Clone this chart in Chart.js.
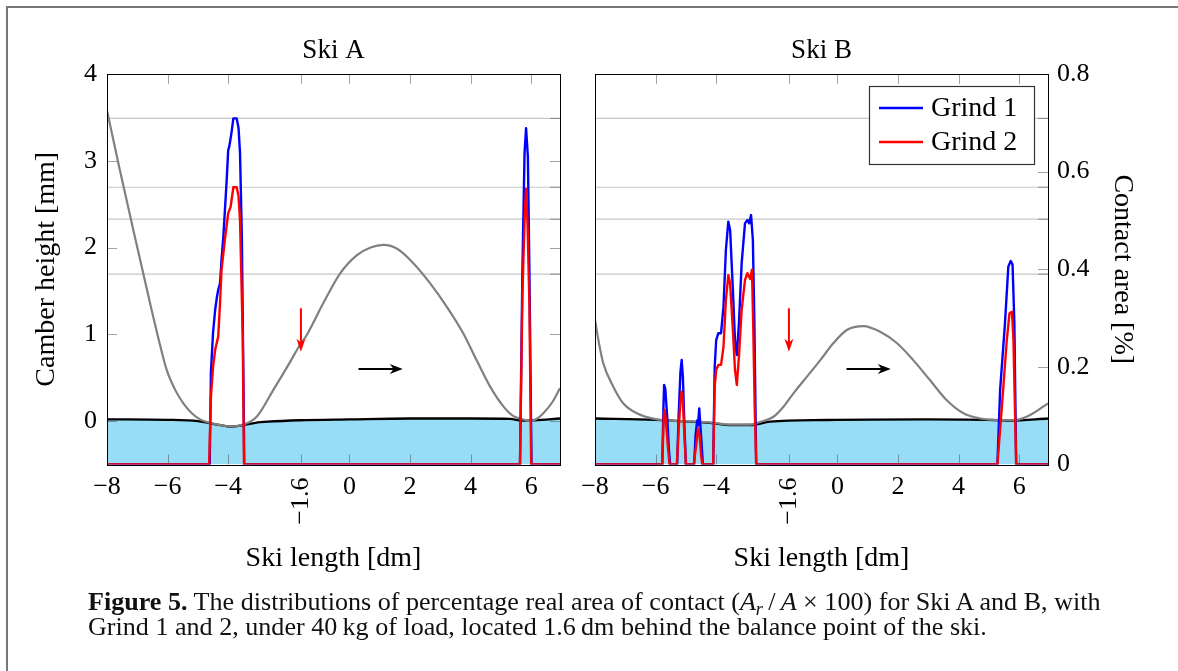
<!DOCTYPE html>
<html>
<head>
<meta charset="utf-8">
<script src="https://cdn.jsdelivr.net/npm/chart.js@4.4.1/dist/chart.umd.min.js"></script>
<style>
html,body{margin:0;padding:0;background:#fff;}
body{width:1178px;height:671px;position:relative;overflow:hidden;font-family:'Liberation Serif','Times New Roman',serif;}
#frame{position:absolute;left:6px;top:6px;width:1300px;height:800px;border-left:2px solid #777;border-top:2px solid #777;}
#ca{position:absolute;left:0;top:0;}
#cb{position:absolute;left:570px;top:0;}
#cap{position:absolute;left:88px;top:589px;font-size:23px;line-height:25px;color:#111;white-space:nowrap;}
#cap sub{font-size:70%;vertical-align:-0.25em;line-height:0;}
</style>
</head>
<body>
<div id="frame"></div>
<canvas id="ca" width="570" height="590"></canvas>
<canvas id="cb" width="608" height="590"></canvas>
<div id="cap"><span id="l1"><b>Figure 5.</b> The distributions of percentage real area of contact (<i>A<sub>r</sub></i>&#8201;/&#8201;<i>A</i> × 100) for Ski A and B, with</span><br><span id="l2">Grind 1 and 2, under 40&#8201;kg of load, located 1.6&#8201;dm behind the balance point of the ski.</span></div>
<script>
// ---------- data ----------
const xTicks = [-8, -6, -4, -1.6, 0, 2, 4, 6];
const camberTicks = [0, 1, 2, 3, 4];
const contactTicks = [0, 0.2, 0.4, 0.6, 0.8];
const gridLevels = [0.709, 0.568, 0.5025, 0.39];
const panelTitles = ['Ski A', 'Ski B'];
const seriesNames = ['Grind 1', 'Grind 2'];

// annotation arrows (x in dm, y in camber mm)
const loadArrowX = -1.6, loadArrowY = [1.30, 0.80];
const dirArrowX = [0.30, 1.76], dirArrowY = 0.60;

// Ski A
const skiA_camberX = [-8, -7.6, -7.13, -6.58, -6.3, -6.03, -5.75, -5.48, -5.2, -4.93, -4.6, -4.2, -3.88, -3.5, -3.06, -2.51, -1.96, -1.63, -1.41, -0.86, -0.31, 0.24, 0.7, 1.12, 1.6, 2.11, 2.66, 3.21, 3.76, 4.2, 4.64, 5.08, 5.4, 5.63, 5.96, 6.2, 6.4, 6.7, 6.95];
const skiA_camberY = [3.58, 2.93, 2.20, 1.36, 0.95, 0.59, 0.36, 0.205, 0.09, 0.02, -0.02, -0.05, -0.065, -0.04, 0.05, 0.36, 0.68, 0.88, 0.99, 1.36, 1.70, 1.91, 2.0, 2.03, 1.98, 1.82, 1.59, 1.32, 1.01, 0.70, 0.40, 0.17, 0.06, 0.03, 0.00, 0.03, 0.09, 0.22, 0.38];
const skiA_loadedX = [-8, -6, -5, -4.6, -4.2, -3.88, -3.5, -3.1, -2.69, -1.63, 0, 2, 4, 5.3, 5.73, 6.1, 6.95];
const skiA_loadedY = [0.02, 0.015, 0.0, -0.025, -0.05, -0.065, -0.045, -0.02, -0.007, 0.01, 0.02, 0.03, 0.03, 0.025, 0.005, 0.01, 0.03];
const skiA_grind1X = [-8, -4.61, -4.57, -4.50, -4.43, -4.38, -4.33, -4.27, -4.22, -4.16, -4.10, -4.05, -4.00, -3.97, -3.94, -3.88, -3.83, -3.76, -3.72, -3.66, -3.61, -3.55, -3.50, -3.47, 5.63, 5.71, 5.78, 5.83, 5.89, 5.94, 6.01, 6.95];
const skiA_grind1Y = [0, 0, 0.19, 0.27, 0.317, 0.34, 0.358, 0.371, 0.42, 0.467, 0.53, 0.583, 0.644, 0.65, 0.66, 0.685, 0.709, 0.709, 0.709, 0.69, 0.638, 0.467, 0.19, 0, 0, 0.40, 0.638, 0.689, 0.63, 0.40, 0, 0];
const skiA_grind2X = [-8, -4.63, -4.57, -4.50, -4.43, -4.33, -4.27, -4.22, -4.11, -4.00, -3.92, -3.83, -3.72, -3.66, -3.61, -3.52, -3.48, 5.63, 5.71, 5.78, 5.83, 5.88, 5.94, 6.00, 6.95];
const skiA_grind2Y = [0, 0, 0.139, 0.20, 0.235, 0.262, 0.33, 0.399, 0.46, 0.515, 0.528, 0.568, 0.568, 0.55, 0.50, 0.262, 0, 0, 0.35, 0.50, 0.565, 0.49, 0.33, 0, 0];

// Ski B
const skiB_camberX = [-8, -7.87, -7.73, -7.4, -7.07, -6.62, -5.96, -5.0, -4.09, -3.54, -2.88, -2.55, -2.11, -1.78, -1.45, -1.01, -0.57, -0.13, 0.31, 0.86, 1.41, 1.96, 2.51, 3.06, 3.61, 4.16, 4.71, 5.37, 5.92, 6.36, 6.95];
const skiB_camberY = [1.17, 0.90, 0.67, 0.40, 0.205, 0.09, 0.02, 0.0, -0.02, -0.04, -0.04, -0.01, 0.05, 0.166, 0.32, 0.51, 0.70, 0.90, 1.05, 1.095, 1.03, 0.90, 0.70, 0.47, 0.24, 0.09, 0.03, 0.01, 0.015, 0.07, 0.205];
const skiB_loadedX = [-8, -6, -4.86, -4.09, -3.54, -2.88, -2.22, -0.35, 2.95, 5.15, 5.70, 6.95];
const skiB_loadedY = [0.03, 0.015, -0.007, -0.025, -0.045, -0.045, -0.007, 0.013, 0.02, 0.013, 0.005, 0.03];
const skiB_grind1X = [-8, -5.78, -5.74, -5.72, -5.68, -5.62, -5.56, -5.52, -5.29, -5.24, -5.18, -5.14, -5.10, -5.05, -5.00, -4.73, -4.68, -4.63, -4.60, -4.56, -4.50, -4.44, -4.10, -4.05, -4.00, -3.93, -3.84, -3.76, -3.68, -3.60, -3.54, -3.45, -3.38, -3.32, -3.25, -3.16, -3.05, -2.97, -2.91, -2.85, -2.79, -2.74, -2.68, 5.28, 5.37, 5.53, 5.64, 5.72, 5.78, 5.84, 5.90, 6.95];
const skiB_grind1Y = [0, 0, 0.12, 0.163, 0.155, 0.10, 0.03, 0, 0, 0.10, 0.19, 0.214, 0.18, 0.08, 0, 0, 0.06, 0.09, 0.08, 0.115, 0.06, 0, 0, 0.2, 0.255, 0.269, 0.269, 0.323, 0.44, 0.4975, 0.48, 0.358, 0.255, 0.224, 0.289, 0.412, 0.494, 0.501, 0.494, 0.511, 0.46, 0.289, 0, 0, 0.153, 0.289, 0.405, 0.417, 0.41, 0.289, 0, 0];
const skiB_grind2X = [-8, -5.78, -5.73, -5.70, -5.66, -5.60, -5.54, -5.30, -5.24, -5.18, -5.14, -5.10, -5.05, -5.00, -4.74, -4.66, -4.60, -4.55, -4.50, -4.46, -4.10, -4.05, -4.00, -3.93, -3.84, -3.76, -3.68, -3.60, -3.54, -3.45, -3.38, -3.32, -3.25, -3.16, -3.05, -2.97, -2.88, -2.82, -2.78, -2.73, -2.68, 5.28, 5.42, 5.59, 5.68, 5.76, 5.81, 5.87, 5.90, 6.95];
const skiB_grind2Y = [0, 0, 0.10, 0.112, 0.09, 0.04, 0, 0, 0.07, 0.13, 0.149, 0.13, 0.06, 0, 0, 0.04, 0.074, 0.06, 0.02, 0, 0, 0.16, 0.194, 0.204, 0.204, 0.241, 0.337, 0.388, 0.37, 0.276, 0.194, 0.163, 0.221, 0.317, 0.378, 0.392, 0.38, 0.399, 0.29, 0.12, 0, 0, 0.112, 0.255, 0.31, 0.313, 0.255, 0.085, 0, 0];

// ---------- rendering ----------
const FONT = "'Liberation Serif', 'Times New Roman', serif";
Chart.defaults.font.family = FONT;
Chart.defaults.color = '#000';
const pts = (xs, ys) => xs.map((x, i) => ({x: x, y: ys[i]}));
const fmtX = v => (v < 0 ? '\u2212' + Math.abs(v) : String(v));
const TICK_LEN = 10;
const TICK_COLOR = 'rgba(70,70,70,0.5)';

function line(ctx, x1, y1, x2, y2) { ctx.beginPath(); ctx.moveTo(x1, y1); ctx.lineTo(x2, y2); ctx.stroke(); }
function stealth(ctx, tx, ty, dx, dy, len, half, color) {
  const px = -dy, py = dx;
  ctx.beginPath();
  ctx.moveTo(tx, ty);
  ctx.lineTo(tx - dx * len + px * half, ty - dy * len + py * half);
  ctx.lineTo(tx - dx * len * 0.7, ty - dy * len * 0.7);
  ctx.lineTo(tx - dx * len - px * half, ty - dy * len - py * half);
  ctx.closePath();
  ctx.fillStyle = color; ctx.fill();
}

const decor = {
  id: 'decor',
  beforeDatasetsDraw(chart) {
    const {ctx, chartArea: ca} = chart; const y2 = chart.scales.y2;
    ctx.save(); ctx.strokeStyle = '#c8c8c8'; ctx.lineWidth = 1.2;
    gridLevels.forEach(v => { const py = y2.getPixelForValue(v); line(ctx, ca.left, py, ca.right, py); });
    ctx.restore();
  },
  afterDatasetsDraw(chart, args, o) {
    const {ctx, chartArea: ca, scales} = chart;
    const sx = scales.x, sy = scales.y, sy2 = scales.y2;
    ctx.save();
    ctx.lineWidth = 1; ctx.strokeStyle = TICK_COLOR;
    xTicks.forEach(v => {
      const px = Math.round(sx.getPixelForValue(v)) + 0.5;
      if (px < ca.left + 2 || px > ca.right - 2) return;
      line(ctx, px, ca.bottom, px, ca.bottom - TICK_LEN);
      line(ctx, px, ca.top, px, ca.top + TICK_LEN);
    });
    if (o.side === 'A') {
      camberTicks.forEach(v => {
        const py = Math.round(sy.getPixelForValue(v)) + 0.5;
        if (py < ca.top + 2) return;
        line(ctx, ca.left, py, ca.left + TICK_LEN, py);
        line(ctx, ca.right, py, ca.right - TICK_LEN, py);
      });
    } else {
      contactTicks.forEach(v => {
        const py = Math.round(sy2.getPixelForValue(v)) + 0.5;
        if (py < ca.top + 2 || py > ca.bottom - 2) return;
        line(ctx, ca.right, py, ca.right - TICK_LEN, py);
      });
    }
    ctx.strokeStyle = 'rgba(90,90,90,0.6)';
    gridLevels.forEach(v => {
      const py = sy2.getPixelForValue(v);
      line(ctx, ca.right, py, ca.right - TICK_LEN, py);
    });
    ctx.strokeStyle = '#000'; ctx.lineWidth = 1;
    ctx.strokeRect(Math.round(ca.left) + 0.5, Math.round(ca.top) + 0.5, Math.round(ca.right) - Math.round(ca.left), Math.round(ca.bottom) - Math.round(ca.top));
    const ax = sx.getPixelForValue(loadArrowX);
    const ay1 = sy.getPixelForValue(loadArrowY[0]), ay2 = sy.getPixelForValue(loadArrowY[1]);
    ctx.strokeStyle = '#ff0000'; ctx.lineWidth = 2;
    line(ctx, ax, ay1, ax, ay2 - 8);
    stealth(ctx, ax, ay2, 0, 1, 13, 4.5, '#ff0000');
    const bx1 = sx.getPixelForValue(dirArrowX[0]), bx2 = sx.getPixelForValue(dirArrowX[1]);
    const by = sy.getPixelForValue(dirArrowY);
    ctx.strokeStyle = '#000'; ctx.lineWidth = 2;
    line(ctx, bx1, by, bx2 - 8, by);
    stealth(ctx, bx2, by, 1, 0, 13, 5, '#000');
    if (o.legend) {
      const w = 165, h = 78;
      const lx = ca.right - 14 - w, ly = ca.top + 12;
      ctx.fillStyle = '#fff'; ctx.fillRect(lx, ly, w, h);
      ctx.strokeStyle = '#333'; ctx.lineWidth = 1.2;
      ctx.strokeRect(Math.round(lx) + 0.5, Math.round(ly) + 0.5, w, h);
      const cols = ['#0000ff', '#ff0000'];
      ctx.font = '28px ' + FONT; ctx.textAlign = 'left'; ctx.textBaseline = 'middle';
      seriesNames.forEach((n, i) => {
        const yy = ly + 22 + i * 34;
        ctx.strokeStyle = cols[i]; ctx.lineWidth = 2.5;
        line(ctx, lx + 10, yy, lx + 54, yy);
        ctx.fillStyle = '#000';
        ctx.fillText(n, lx + 62, yy + 1);
      });
    }
    ctx.restore();
  },
  afterDraw(chart) {
    const {ctx, chartArea: ca, scales} = chart;
    const px = scales.x.getPixelForValue(-1.6);
    ctx.save();
    ctx.translate(px, ca.bottom + 13);
    ctx.rotate(-Math.PI / 2);
    ctx.font = '26px ' + FONT; ctx.fillStyle = '#000';
    ctx.textAlign = 'right'; ctx.textBaseline = 'middle';
    ctx.fillText(fmtX(-1.6), 0, 0);
    ctx.restore();
  }
};

function makeChart(id, side, d, leftW, rightW) {
  const isA = side === 'A';
  return new Chart(document.getElementById(id), {
    type: 'line',
    data: {
      datasets: [
        {label: 'Loaded', data: pts(d.lx, d.ly), yAxisID: 'y', borderColor: '#000', borderWidth: 2.3,
         backgroundColor: '#98ddf6', fill: 'start', cubicInterpolationMode: 'monotone', pointRadius: 0, order: 4},
        {label: 'Camber', data: pts(d.cx, d.cy), yAxisID: 'y', borderColor: '#808080', borderWidth: 2.2,
         fill: false, cubicInterpolationMode: 'monotone', pointRadius: 0, order: 3},
        {label: seriesNames[0], data: pts(d.g1x, d.g1y), yAxisID: 'y2', borderColor: '#0000ff', borderWidth: 2.4,
         fill: false, tension: 0, pointRadius: 0, borderJoinStyle: 'round', order: 2},
        {label: seriesNames[1], data: pts(d.g2x, d.g2y), yAxisID: 'y2', borderColor: '#ff0000', borderWidth: 2.4,
         fill: false, tension: 0, pointRadius: 0, borderJoinStyle: 'round', order: 1}
      ]
    },
    options: {
      responsive: false, animation: false, events: [],
      layout: {padding: 0},
      plugins: {
        legend: {display: false}, tooltip: {enabled: false},
        title: {display: true, fullSize: false, text: isA ? panelTitles[0] : panelTitles[1], color: '#000',
                font: {size: 27, weight: 'normal', lineHeight: 1.2}, padding: {top: 35, bottom: 6.6}},
        decor: {side: side, legend: !isA}
      },
      scales: {
        x: {type: 'linear', min: -8, max: 6.95,
            afterBuildTicks: s => { s.ticks = xTicks.map(v => ({value: v})); },
            ticks: {callback: v => (v === -1.6 ? '' : fmtX(v)), font: {size: 26, lineHeight: 1.2}, color: '#000', padding: 7, maxRotation: 0, autoSkip: false},
            grid: {display: false, drawTicks: false}, border: {display: false},
            title: {display: true, text: 'Ski length [dm]', color: '#000', font: {size: 28, lineHeight: 1.2}, padding: {top: 0, bottom: 15}},
            afterFit: s => { s.height = 125.5; }},
        y: {type: 'linear', position: 'left', min: -0.5, max: 4,
            afterBuildTicks: s => { s.ticks = camberTicks.map(v => ({value: v})); },
            ticks: {display: isA, callback: v => String(v), font: {size: 26, lineHeight: 1.2}, color: '#000', padding: 10},
            grid: {display: false, drawTicks: false}, border: {display: false},
            title: {display: isA, text: 'Camber height [mm]', color: '#000', font: {size: 28, lineHeight: 1.2}, padding: {top: 30, bottom: 0}},
            afterFit: s => { s.width = leftW; }},
        y2: {type: 'linear', position: 'right', min: 0, max: 0.8,
            afterBuildTicks: s => { s.ticks = contactTicks.map(v => ({value: v})); },
            ticks: {display: !isA, callback: v => (v === 0 ? '0' : v.toFixed(1)), font: {size: 26, lineHeight: 1.2}, color: '#000', padding: 9},
            grid: {display: false, drawTicks: false}, border: {display: false},
            title: {display: !isA, text: 'Contact area [%]', color: '#000', font: {size: 28, lineHeight: 1.2}, padding: {top: 39, bottom: 0}},
            afterFit: s => { s.width = rightW; }}
      }
    },
    plugins: [decor]
  });
}

makeChart('ca', 'A', {cx: skiA_camberX, cy: skiA_camberY, lx: skiA_loadedX, ly: skiA_loadedY,
  g1x: skiA_grind1X, g1y: skiA_grind1Y, g2x: skiA_grind2X, g2y: skiA_grind2Y}, 107, 10);
makeChart('cb', 'B', {cx: skiB_camberX, cy: skiB_camberY, lx: skiB_loadedX, ly: skiB_loadedY,
  g1x: skiB_grind1X, g1y: skiB_grind1Y, g2x: skiB_grind2X, g2y: skiB_grind2Y}, 25, 130);

(function () {
  const cap = document.getElementById('cap');
  const w = document.getElementById('l2').getBoundingClientRect().width;
  const fs = 23 * 899 / w;
  cap.style.fontSize = fs.toFixed(2) + 'px';
})();
</script>
</body>
</html>
